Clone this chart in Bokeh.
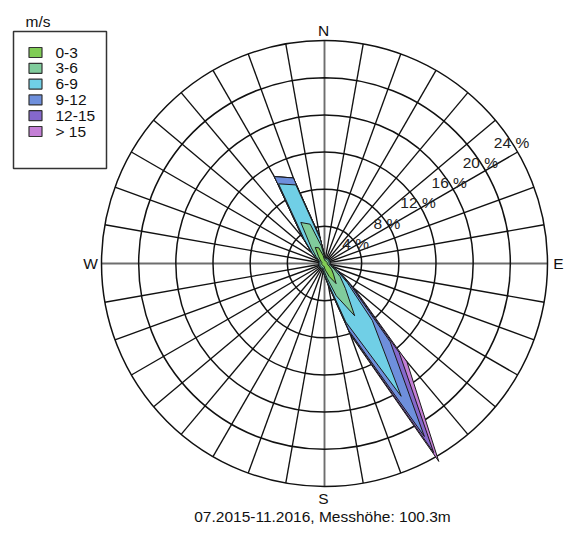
import math
from bokeh.plotting import figure
from bokeh.models import Range1d
from bokeh.core.properties import value
from bokeh.embed import file_html
from bokeh.resources import INLINE

# ---------------- data ----------------
directions = list(range(0, 360, 10))
classes = ["0-3", "3-6", "6-9", "9-12", "12-15", "> 15"]
colors = ["#80cc55", "#80cc9c", "#70cfe6", "#6e8fdc", "#8568cc", "#c47fd6"]

# frequency (%) per direction, one list per speed class
f_0_3 = [0.4, 0.3, 0.3, 0.3, 0.3, 0.3, 0.3, 0.3, 0.3, 0.3, 0.3, 0.4,
         0.6, 1.0, 1.5, 2.5, 1.5, 0.8, 0.5, 0.3, 0.3, 0.3, 0.3, 0.3,
         0.3, 0.3, 0.3, 0.3, 0.3, 0.3, 0.4, 0.6, 1.0, 2.0, 1.8, 0.9]
f_3_6 = [0.3, 0.2, 0.2, 0.2, 0.2, 0.2, 0.2, 0.2, 0.2, 0.2, 0.2, 0.3,
         0.6, 1.2, 2.0, 4.0, 2.2, 0.8, 0.4, 0.3, 0.2, 0.2, 0.2, 0.2,
         0.2, 0.2, 0.2, 0.2, 0.2, 0.2, 0.3, 0.6, 1.2, 3.1, 2.7, 1.0]
f_6_9 = [0.2, 0.1, 0.1, 0.1, 0.1, 0.1, 0.1, 0.1, 0.1, 0.1, 0.1, 0.2,
         0.4, 1.0, 4.5, 10.0, 3.0, 0.5, 0.3, 0.2, 0.1, 0.1, 0.1, 0.1,
         0.1, 0.1, 0.1, 0.1, 0.1, 0.1, 0.2, 0.5, 1.2, 4.8, 4.5, 0.8]
f_9_12 = [0.0, 0.0, 0.0, 0.0, 0.0, 0.0, 0.0, 0.0, 0.0, 0.0, 0.0, 0.0,
          0.2, 0.5, 3.0, 5.0, 1.0, 0.2, 0.1, 0.0, 0.0, 0.0, 0.0, 0.0,
          0.0, 0.0, 0.0, 0.0, 0.0, 0.0, 0.0, 0.1, 0.3, 0.9, 0.8, 0.2]
f_12_15 = [0.0, 0.0, 0.0, 0.0, 0.0, 0.0, 0.0, 0.0, 0.0, 0.0, 0.0, 0.0,
           0.1, 0.3, 1.5, 2.0, 0.3, 0.1, 0.0, 0.0, 0.0, 0.0, 0.0, 0.0,
           0.0, 0.0, 0.0, 0.0, 0.0, 0.0, 0.0, 0.0, 0.0, 0.0, 0.0, 0.0]
f_15p = [0.0, 0.0, 0.0, 0.0, 0.0, 0.0, 0.0, 0.0, 0.0, 0.0, 0.0, 0.0,
         0.1, 0.2, 1.3, 1.1, 0.2, 0.0, 0.0, 0.0, 0.0, 0.0, 0.0, 0.0,
         0.0, 0.0, 0.0, 0.0, 0.0, 0.0, 0.0, 0.0, 0.0, 0.0, 0.0, 0.0]
series = [f_0_3, f_3_6, f_6_9, f_9_12, f_12_15, f_15p]

ring_values = [4, 8, 12, 16, 20, 24]
ring_labels = ["4 %", "8 %", "12 %", "16 %", "20 %", "24 %"]
compass = ["N", "E", "S", "W"]
caption = "07.2015-11.2016, Messhöhe: 100.3m"
legend_title = "m/s"

# ---------------- layout ----------------
W, H = 566, 528
FONT = value("Liberation Sans")
FS = "15.5px"
p = figure(width=W, height=H, x_range=Range1d(0, W), y_range=Range1d(0, H),
           output_backend="svg", toolbar_location=None, min_border=0,
           x_axis_type=None, y_axis_type=None)
p.grid.visible = False
p.outline_line_color = None
p.background_fill_color = "white"


def Y(page_y):
    return H - page_y


CX, CY = 324.0, Y(263)         # centre of the rose
RMAX = 223.0                   # radius of the outer ring
S = RMAX / ring_values[-1]     # pixels per percent


def pol(r, b):
    a = math.radians(b)
    return CX + r * S * math.sin(a), CY + r * S * math.cos(a)


# grid: spokes
for b in directions:
    x1, y1 = pol(ring_values[-1], b)
    main = b % 90 == 0
    p.line([CX, x1], [CY, y1], line_color="#6e6e6e" if main else "#111111",
           line_width=1.9 if main else 1.35)
# grid: rings
for rv in ring_values:
    p.circle(x=[CX], y=[CY], radius=rv * S, fill_color=None,
             line_color="#111111", line_width=1.5)

# petals (cumulative, drawn from outermost)
cum = []
run = [0.0] * len(directions)
for s in series:
    run = [a + b for a, b in zip(run, s)]
    cum.append(run)
for k in range(len(series) - 1, -1, -1):
    xs, ys = [], []
    for b, r in zip(directions, cum[k]):
        x, y = pol(r, b)
        xs.append(x)
        ys.append(y)
    p.patch(xs, ys, fill_color=colors[k], line_color="#1a1a1a", line_width=1.0)

# ring labels
LB = 57
lx = [pol(rv, LB)[0] for rv in ring_values]
ly = [pol(rv, LB)[1] for rv in ring_values]
p.text(lx, ly, text=ring_labels, text_font=FONT, text_font_size=FS,
       text_align="center", text_baseline="middle", text_color="#222222")

# compass letters
cx_ = [CX - 1, CX + RMAX + 11, CX - 1, CX - RMAX - 11]
cy_ = [Y(30), CY, Y(498), CY]
p.text(cx_, cy_, text=compass, text_font=FONT, text_font_size=FS,
       text_align="center", text_baseline="middle", text_color="#111111")

# caption
p.text([CX - 2], [Y(516)], text=[caption], text_font=FONT, text_font_size=FS,
       text_align="center", text_baseline="middle", text_color="#111111")

# legend
p.quad(left=[13], right=[106], top=[Y(31)], bottom=[Y(168)], fill_color="white",
       line_color="#333333", line_width=1.5)
p.text([25], [Y(21)], text=[legend_title], text_font=FONT, text_font_size=FS,
       text_align="left", text_baseline="middle", text_color="#111111")
ly0 = 52
step = 15.8
sy = [Y(ly0 + i * step) for i in range(len(classes))]
p.rect(x=[35] * len(classes), y=sy, width=13, height=10, fill_color=colors,
       line_color="#333333", line_width=1.2)
p.text([55] * len(classes), sy, text=classes, text_font=FONT,
       text_font_size=FS, text_align="left", text_baseline="middle",
       text_color="#111111")

open("out.html", "w").write(file_html(p, INLINE))
